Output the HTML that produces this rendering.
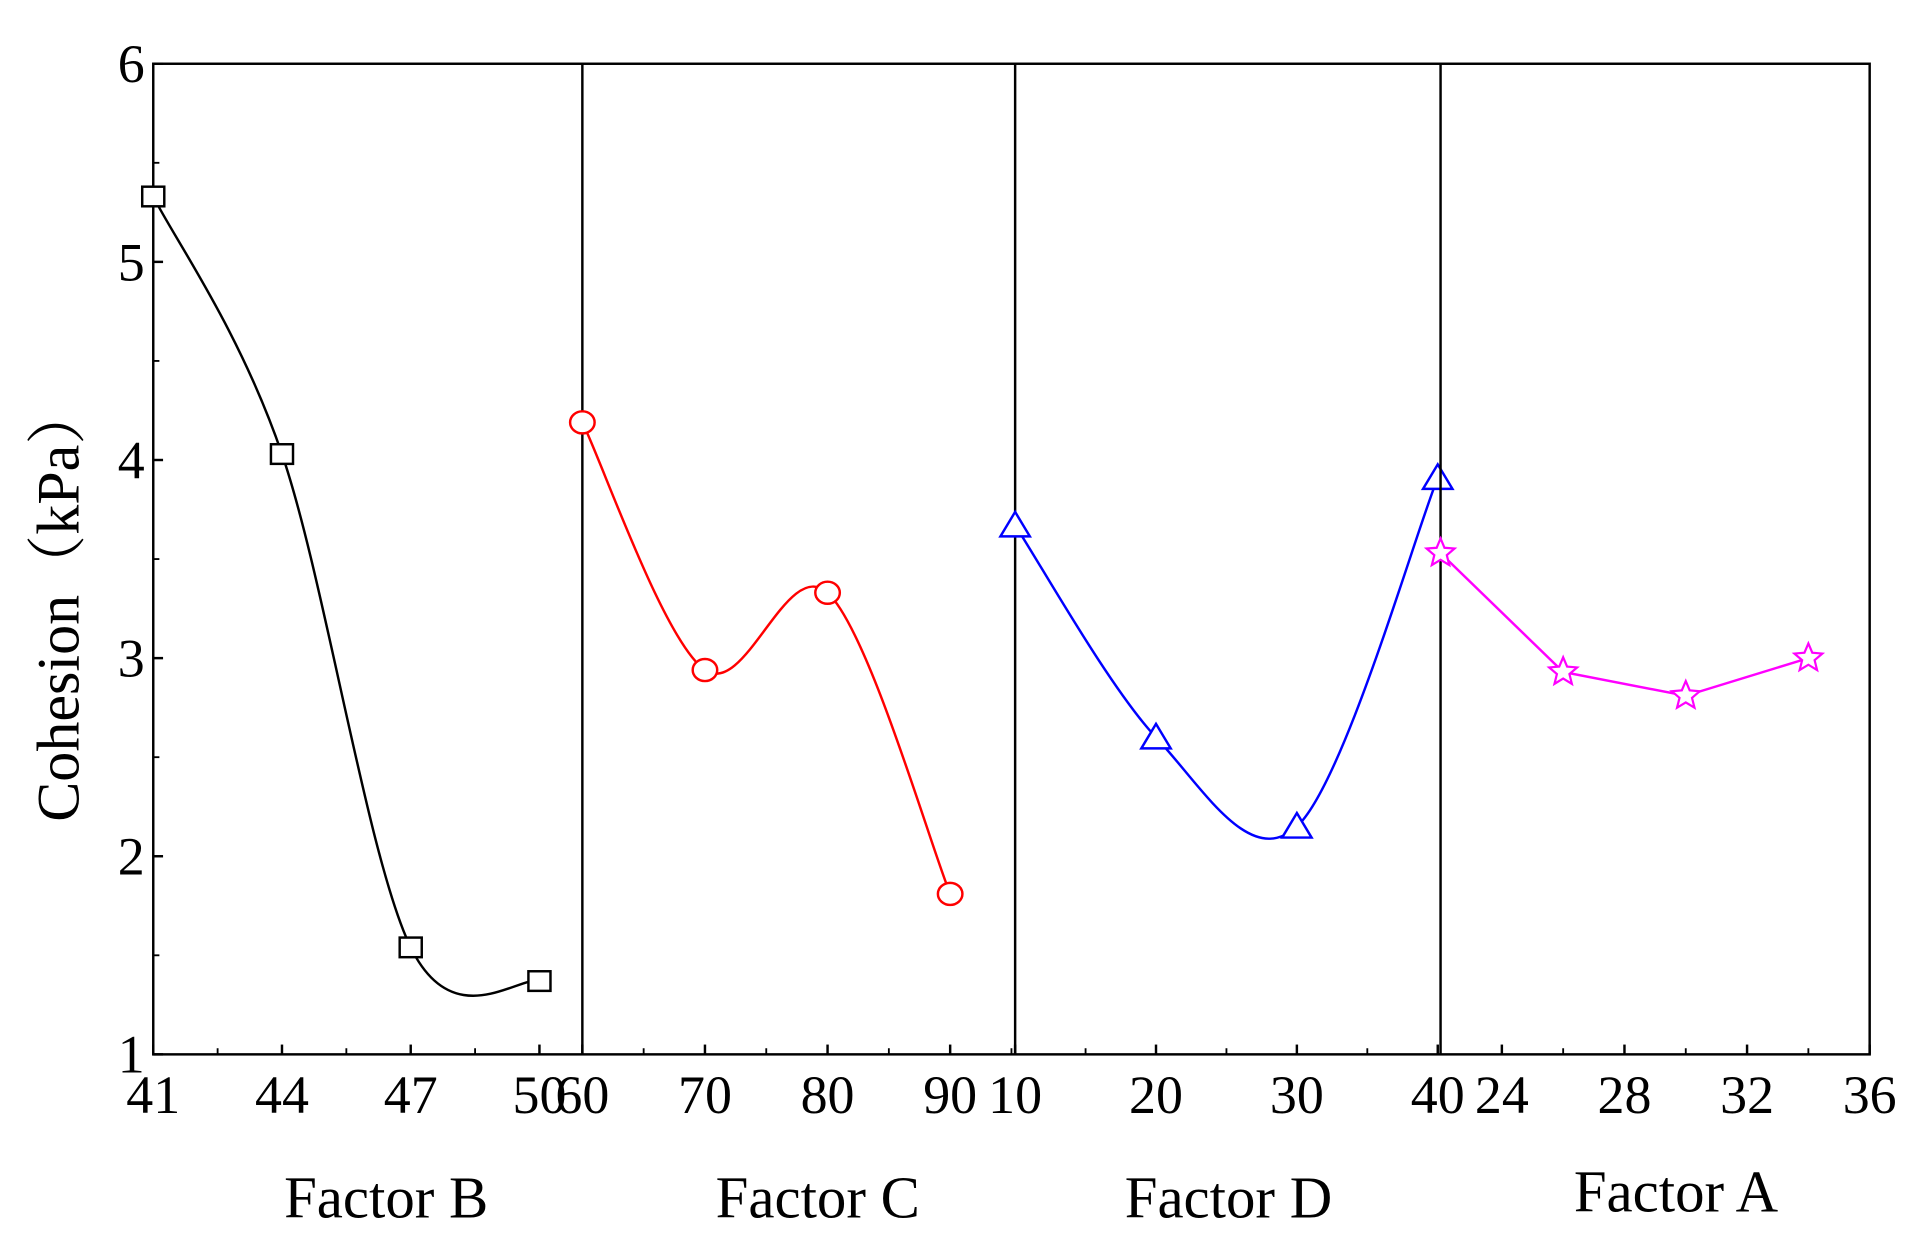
<!DOCTYPE html>
<html><head><meta charset="utf-8"><style>
html,body{margin:0;padding:0;background:#fff;}
svg{display:block;}
text{font-family:"Liberation Serif","Noto Serif CJK SC",serif;fill:#000;}
</style></head><body>
<svg id="chart" width="1923" height="1252" viewBox="0 0 1568.5 1021.2" preserveAspectRatio="none" xmlns="http://www.w3.org/2000/svg"></svg>
<script>
const bX=[41,44,47,50], bY=[5.33,4.03,1.54,1.37];
const cX=[60,70,80,90], cY=[4.19,2.94,3.33,1.81];
const dX=[10,20,30,40], dY=[3.67,2.60,2.15,3.91];
const aX=[22,26,30,34], aY=[3.53,2.93,2.81,3.00];
const yTicks=[1,2,3,4,5,6];
const bTicks=[41,44,47,50], cTicks=[60,70,80,90], dTicks=[10,20,30,40], aTicks=[24,28,32,36];
const panelNames=["Factor B","Factor C","Factor D","Factor A"];

const NS="http://www.w3.org/2000/svg";
const svg=document.getElementById('chart');
const top_=52,bot=860,y0=1,y1=6;
function Y(v){return bot-(v-y0)/(y1-y0)*(bot-top_);}
const panels=[
 {px0:125,px1:475,d0:41,d1:51,xs:bX,ys:bY,ticks:bTicks,minor:1.5,color:'#000',marker:'square',smooth:true,lab:315},
 {px0:475,px1:828,d0:60,d1:95.3,xs:cX,ys:cY,ticks:cTicks,minor:5,color:'#ff0000',marker:'circle',smooth:true,lab:667},
 {px0:828,px1:1175,d0:10,d1:40.2,xs:dX,ys:dY,ticks:dTicks,minor:5,color:'#0000ff',marker:'triangle',smooth:true,lab:1002},
 {px0:1175,px1:1525,d0:22,d1:36,xs:aX,ys:aY,ticks:aTicks,minor:2,color:'#ff00ff',marker:'star',smooth:false,lab:1367}
];
function el(tag,attrs){const e=document.createElementNS(NS,tag);for(const k in attrs)e.setAttribute(k,attrs[k]);svg.appendChild(e);return e;}

const frame=el('rect',{x:125,y:top_,width:1400,height:bot-top_,fill:'none',stroke:'#000','stroke-width':2});



yTicks.forEach(v=>{
  const t=el('line',{x1:125,x2:133,y1:Y(v),y2:Y(v),stroke:'#000','stroke-width':2});
  
  
  if(v<6){const m=el('line',{x1:125,x2:130,y1:Y(v+0.5),y2:Y(v+0.5),stroke:'#000','stroke-width':1.5});
  
  }
  const tx=el('text',{x:118,y:Y(v)+15,'font-size':44,'text-anchor':'end'});
  tx.textContent=v;
  
  
});
const yl=el('text',{x:0,y:0,'font-size':49,'text-anchor':'middle',transform:'translate(64,492) rotate(-90)'});
yl.textContent='Cohesion（kPa）';



function starPath(cx,cy,r){let p='';for(let i=0;i<10;i++){const a=-Math.PI/2+i*Math.PI/5;const rr=i%2?r*0.45:r;p+=(i?'L':'M')+(cx+rr*Math.cos(a)).toFixed(1)+','+(cy+rr*Math.sin(a)).toFixed(1);}return p+'Z';}

panels.forEach((p,i)=>{
  const X=v=>p.px0+(v-p.d0)/(p.d1-p.d0)*(p.px1-p.px0);
  if(i>0){const s=el('line',{x1:p.px0,x2:p.px0,y1:top_,y2:bot,stroke:'#000','stroke-width':2});
    
    }
  for(let v=p.d0;v<=p.d1+1e-6;v+=p.minor){
    const major=p.ticks.some(t=>Math.abs(t-v)<1e-6);
    const tk=el('line',{x1:X(v),x2:X(v),y1:bot,y2:bot-(major?8:5),stroke:'#000','stroke-width':major?2:1.5});
    
    
  }
  p.ticks.forEach(v=>{
    const t=el('text',{x:X(v),y:908,'font-size':44,'text-anchor':'middle'});
    t.textContent=v;
    
    
  });
  const lt=el('text',{x:p.lab,y:(i==3?988:993),'font-size':48,'text-anchor':'middle'});
  lt.textContent=panelNames[i];
  
  
  const pts=p.xs.map((x,k)=>[X(x),Y(p.ys[k])]);
  let d='M'+pts[0][0]+','+pts[0][1];
  if(p.smooth){
    for(let k=0;k<pts.length-1;k++){
      const p0=pts[k-1]||pts[k],p1=pts[k],p2=pts[k+1],p3=pts[k+2]||pts[k+1];
      const c1=[p1[0]+(p2[0]-p0[0])/6,p1[1]+(p2[1]-p0[1])/6];
      const c2=[p2[0]-(p3[0]-p1[0])/6,p2[1]-(p3[1]-p1[1])/6];
      d+=' C'+c1+' '+c2+' '+p2;
    }
  } else pts.slice(1).forEach(q=>d+=' L'+q);
  const ln=el('path',{d:d,fill:'none',stroke:p.color,'stroke-width':2});
  
  
  pts.forEach(q=>{
    let m;
    if(p.marker=='square') m=el('rect',{x:q[0]-9,y:q[1]-8,width:18,height:16,fill:'#fff',stroke:p.color,'stroke-width':2});
    else if(p.marker=='circle') m=el('ellipse',{cx:q[0],cy:q[1],rx:10,ry:9,fill:'#fff',stroke:p.color,'stroke-width':2});
    else if(p.marker=='triangle') m=el('path',{d:`M${q[0]},${q[1]-11}L${q[0]+12},${q[1]+9}L${q[0]-12},${q[1]+9}Z`,fill:'#fff',stroke:p.color,'stroke-width':2});
    else m=el('path',{d:starPath(q[0],q[1],12),fill:'#fff',stroke:p.color,'stroke-width':1.8});
    
    
  });
});
</script>
</body></html>
